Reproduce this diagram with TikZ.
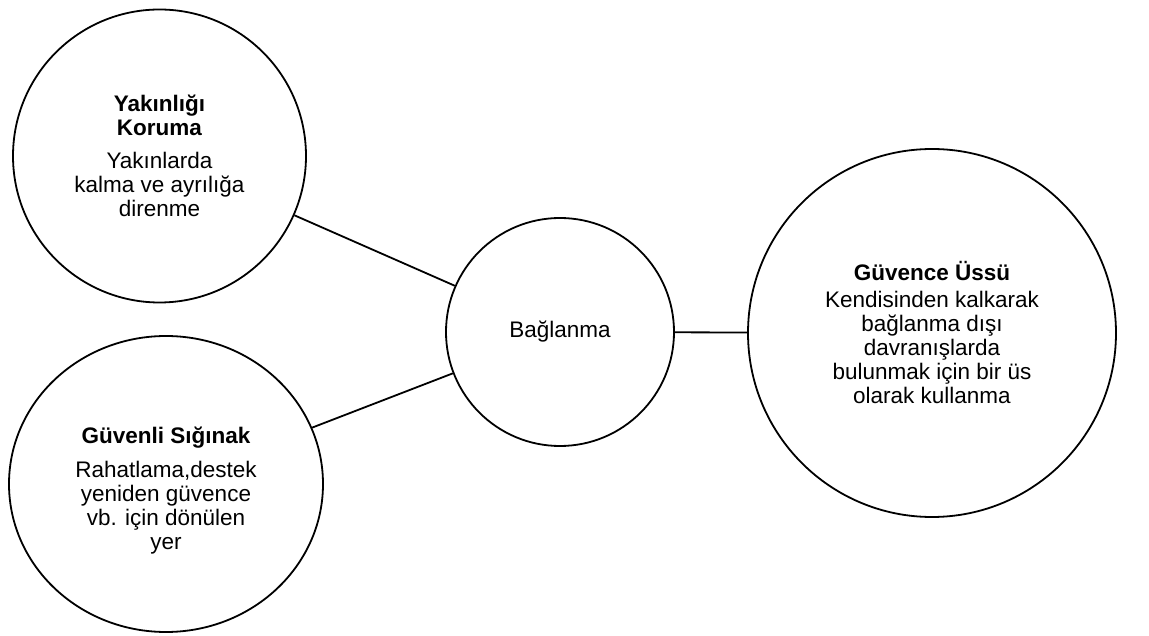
\documentclass[tikz,border=0pt]{standalone}
\usepackage{fontspec}
\setmainfont{Liberation Sans}
\usetikzlibrary{shapes.geometric}
\begin{document}
\begin{tikzpicture}[x=1pt,y=1pt,
  txt/.style={inner sep=0pt, align=center, font=\fontsize{22.5}{24}\selectfont},
  bubble/.style={txt, draw, line width=1.8pt, circle},
  oval/.style={txt, draw, line width=1.8pt, ellipse},
  link/.style={line width=1.8pt}]
\useasboundingbox (0,0) rectangle (1149,635);
\node[bubble, minimum size=293pt] (A) at (159.5,479)
  {\textbf{Yakınlığı}\\\textbf{Koruma}\\[9pt]Yakınlarda\\kalma ve ayrılığa\\direnme};
\node[oval, minimum width=314pt, minimum height=296pt] (B) at (166,151) {};
\node[txt] (Btext) at (166,144)
  {\textbf{Güvenli Sığınak}\\[10pt]Rahatlama,destek\\yeniden güvence\\vb. için dönülen\\yer};
\node[bubble, minimum size=228pt] (C) at (560,303) {Bağlanma};
\node[bubble, minimum size=368pt] (D) at (932,302)
  {\textbf{Güvence Üssü}\\[3pt]Kendisinden kalkarak\\bağlanma dışı\\davranışlarda\\bulunmak için bir üs\\olarak kullanma};
\draw[link] (A) -- (C);
\draw[link] (B) -- (C);
\draw[link] (C) -- (D);
\end{tikzpicture}
\end{document}
